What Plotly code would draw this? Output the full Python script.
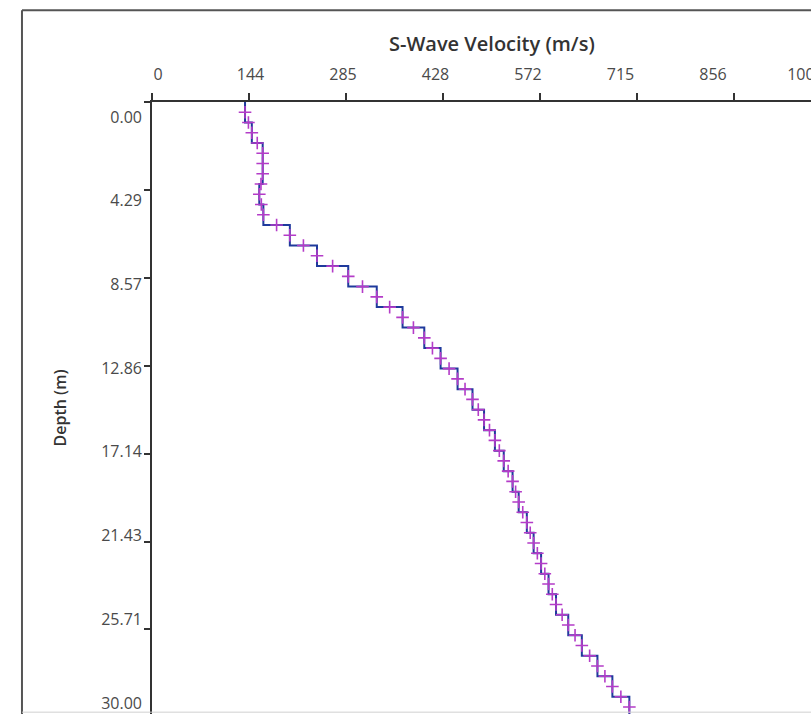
import plotly.graph_objects as go

# ---- data ----
layer_top = [0, 1, 2, 3, 4, 5, 6, 7, 8, 9, 10, 11, 12, 13, 14, 15, 16, 17, 18, 19,
             20, 21, 22, 23, 24, 25, 26, 27, 28, 29]
layer_bottom = [1, 2, 3, 4, 5, 6, 7, 8, 9, 10, 11, 12, 13, 14, 15, 16, 17, 18, 19, 20,
                21, 22, 23, 24, 25, 26, 27, 28, 29, 30]
vs = [137, 147, 163, 163, 158, 164, 203, 243, 289, 331, 369, 401, 425, 450, 472, 489,
      505, 518, 531, 540, 552, 562, 573, 584, 595, 613, 633, 656, 678, 703]

x_tick_vals = [0, 142.857, 285.714, 428.571, 571.429, 714.286, 857.143, 1000]
x_tick_text = ["0", "144", "285", "428", "572", "715", "856", "1000"]
y_tick_vals = [0, 4.2857, 8.5714, 12.857, 17.143, 21.429, 25.714, 30]
y_tick_text = ["0.00", "4.29", "8.57", "12.86", "17.14", "21.43", "25.71", "30.00"]

x_title = "S-Wave Velocity (m/s)"
y_title = "Depth (m)"

# ---- step profile built from the layers ----
step_x, step_y = [], []
for i in range(len(vs)):
    step_x += [vs[i], vs[i]]
    step_y += [layer_top[i], layer_bottom[i]]

mark_x, mark_y = [], []
for i in range(len(vs)):
    mark_x.append(vs[i])
    mark_y.append((layer_top[i] + layer_bottom[i]) / 2)
    if i + 1 < len(vs):
        mark_x.append((vs[i] + vs[i + 1]) / 2)
        mark_y.append(layer_bottom[i])

LINE = "#1f3a9c"
MARK = "#b43cc8"
AX = "#333333"
TXT = "#4a4a4a"
FONT = "Open Sans, Noto Sans, sans-serif"

fig = go.Figure()
fig.add_trace(go.Scatter(x=step_x, y=step_y, mode="lines",
                         line=dict(color=LINE, width=2), hoverinfo="skip",
                         showlegend=False))
fig.add_trace(go.Scatter(x=mark_x, y=mark_y, mode="markers",
                         marker=dict(symbol="cross-thin", size=9,
                                     line=dict(color=MARK, width=1.6)),
                         showlegend=False))
# invisible trace so the label axes are drawn
fig.add_trace(go.Scatter(x=[None], y=[None], xaxis="x2", yaxis="y2",
                         showlegend=False, hoverinfo="skip"))

fig.update_layout(
    width=811, height=714,
    margin=dict(l=152, r=0, t=102, b=0),
    paper_bgcolor="white", plot_bgcolor="white",
    font=dict(family=FONT, color=TXT, size=16),
    xaxis=dict(side="top", range=[0, 970.5], tickvals=x_tick_vals,
               showticklabels=False, ticks="outside", ticklen=7, tickwidth=2,
               tickcolor=AX, showline=True, linecolor=AX, linewidth=2,
               showgrid=False, zeroline=False, automargin=False),
    xaxis2=dict(overlaying="x", side="top", range=[-9.27, 1008.5],
                tickvals=x_tick_vals, ticktext=x_tick_text, ticks="",
                showline=False, showgrid=False, zeroline=False,
                automargin=False, ticklabeloverflow="allow",
                ticklabelstandoff=18, tickfont=dict(size=16, color=TXT)),
    yaxis=dict(range=[29.84, 0], tickvals=y_tick_vals, showticklabels=False,
               ticks="outside", ticklen=6, tickwidth=2, tickcolor=AX,
               showline=True, linecolor=AX, linewidth=2, showgrid=False,
               zeroline=False, automargin=False),
    yaxis2=dict(overlaying="y", side="left", range=[30.563, -0.768],
                tickvals=y_tick_vals, ticktext=y_tick_text, ticks="",
                showline=False, showgrid=False, zeroline=False,
                automargin=False,
                ticklabelstandoff=9, tickfont=dict(size=16, color=TXT),
                title=dict(text=y_title, standoff=30,
                           font=dict(size=16, color="#333", weight=600))),
)

# x-axis title (centred as in the reference)
fig.add_annotation(text=x_title, xref="paper", yref="paper", x=0.516, y=1.0,
                   yshift=59, showarrow=False, xanchor="center", yanchor="middle",
                   font=dict(size=20, color="#333", family=FONT, weight=600))

# outer frame
fig.add_shape(type="line", xref="paper", yref="paper", x0=-0.1973, x1=-0.1973,
              y0=-0.01, y1=1.150, line=dict(color="#555", width=2))
fig.add_shape(type="line", xref="paper", yref="paper", x0=-0.1973, x1=1.1,
              y0=1.150, y1=1.150, line=dict(color="#555", width=2))
fig.add_shape(type="line", xref="paper", yref="paper", x0=-0.1973, x1=1.1,
              y0=0.003, y1=0.003, line=dict(color="#d0d0d0", width=1))

fig.write_html(
    "out.html",
    config={"displayModeBar": False},
    post_script="document.body.style.margin='0';document.body.style.overflow='hidden';",
)
